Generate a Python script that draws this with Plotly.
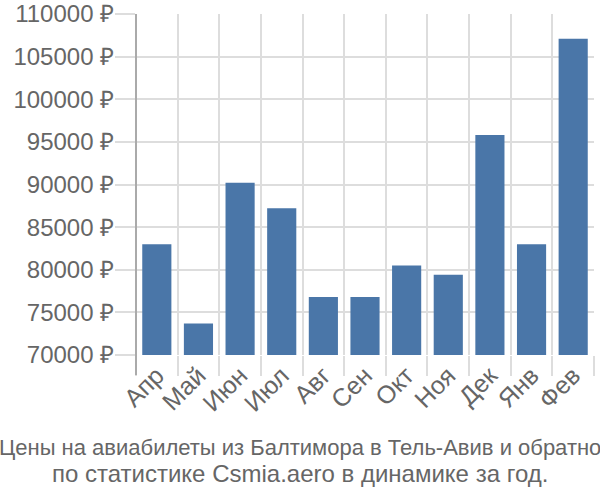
import plotly.graph_objects as go

months = ["Апр", "Май", "Июн", "Июл", "Авг", "Сен", "Окт", "Ноя", "Дек", "Янв", "Фев"]
prices = [83000, 73700, 90200, 87200, 76800, 76800, 80500, 79400, 95800, 83000, 107100]
y_ticks = [70000, 75000, 80000, 85000, 90000, 95000, 100000, 105000, 110000]
title_lines = ["Цены на авиабилеты из Балтимора в Тель-Авив и обратно",
               "по статистике Csmia.aero в динамике за год."]

FONT = "Liberation Sans, Arial, sans-serif"
GRID = "#dddddd"
TXT = "#666666"

fig = go.Figure(go.Bar(x=months, y=prices, marker=dict(color="#4a76a8", line=dict(width=0))))

fig.update_layout(
    width=600, height=500,
    margin=dict(l=136, r=6, t=14, b=145, autoexpand=False),
    paper_bgcolor="white", plot_bgcolor="white",
    bargap=0.3,
    showlegend=False,
    font=dict(family=FONT, color=TXT),
)
fig.update_xaxes(
    type="category", automargin=False,
    tickson="boundaries", ticks="outside", ticklen=20, tickcolor=GRID, tickwidth=2,
    showgrid=True, gridcolor=GRID, gridwidth=2,
    tickangle=-45, tickfont=dict(size=25, color=TXT, family=FONT),
    showline=False, zeroline=False,
)
fig.update_yaxes(
    range=[70000, 110000], automargin=False,
    tickvals=y_ticks, ticktext=[f"{v} ₽" for v in y_ticks],
    ticks="outside", ticklen=20, tickcolor=GRID, tickwidth=2,
    showgrid=True, gridcolor=GRID, gridwidth=2,
    tickfont=dict(size=24, color=TXT, family=FONT),
    ticklabelstandoff=-4,
    showline=False, zeroline=False,
)
fig.add_shape(type="line", xref="paper", yref="paper", x0=0, x1=0, y0=-20/341, y1=1,
              line=dict(color="#aaaaaa", width=2))
xc = (300 - 136) / (600 - 136 - 6)
fig.add_annotation(text=title_lines[0], xref="paper", yref="paper",
                   x=xc, xanchor="center", y=-(447 - 355) / 341, yanchor="middle",
                   showarrow=False, font=dict(size=22, color=TXT, family=FONT))
fig.add_annotation(text=title_lines[1], xref="paper", yref="paper",
                   x=xc, xanchor="center", y=-(473 - 355) / 341, yanchor="middle",
                   showarrow=False, font=dict(size=24, color=TXT, family=FONT))

fig.write_html("out.html")
